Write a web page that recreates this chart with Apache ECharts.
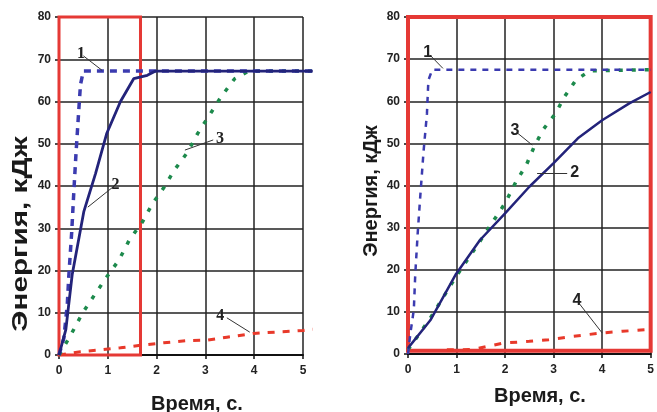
<!DOCTYPE html>
<html>
<head>
<meta charset="utf-8">
<script src="https://cdn.jsdelivr.net/npm/echarts@6/dist/echarts.min.js"></script>
<style>
  html, body { margin: 0; padding: 0; background: #fff; }
  #chart { width: 657px; height: 412px; }
</style>
</head>
<body>
<div id="chart"></div>
<script>
// left chart (время, с / энергия, кДж)
var tL1 = [0, 0.1, 0.17, 0.2, 0.26, 0.31, 0.35, 0.4, 0.44, 0.5, 5.2];
var eL1 = [0, 4, 12, 18.5, 29, 40, 48, 57, 64, 67.2, 67.2];
var tL2 = [0, 0.14, 0.27, 0.51, 0.75, 0.98, 1.26, 1.53, 1.81, 1.98, 5.2];
var eL2 = [0, 6, 19, 34, 43, 52.5, 60, 65.4, 66.2, 67.2, 67.2];
var tL3 = [0, 0.24, 0.48, 0.75, 0.98, 1.23, 1.44, 1.71, 1.92, 2.16, 2.36, 2.64, 2.84, 3.08, 3.32, 3.6, 3.87, 4.14, 5.2];
var eL3 = [0, 4.7, 9.9, 14.6, 18.5, 22.5, 27.2, 31.5, 35.9, 39.8, 43.7, 48.1, 52.4, 56.7, 61.1, 65.4, 67.1, 67.2, 67.2];
var tL4 = [0, 0.44, 0.85, 1.26, 1.74, 2.15, 2.63, 3.03, 3.44, 3.99, 4.54, 5.01, 5.2];
var eL4 = [0, 0.8, 1.2, 1.7, 2.4, 2.9, 3.4, 3.5, 4.2, 5.1, 5.5, 5.8, 6.1];

// right chart
var tR1 = [0, 0.05, 0.12, 0.15, 0.2, 0.25, 0.32, 0.39, 0.42, 0.5, 5];
var eR1 = [0, 5, 10.5, 19, 28.7, 37, 48, 57, 65, 67.5, 67.5];
var tR2 = [0, 0.46, 0.99, 1.48, 2.0, 2.5, 3.0, 3.5, 4.0, 4.56, 5.0];
var eR2 = [1.4, 8, 19, 27, 33.4, 39.7, 45.3, 51.2, 55.5, 59.5, 62.2];
var tR3 = [0, 0.46, 0.99, 1.48, 2.0, 2.23, 2.44, 2.6, 2.78, 3.04, 3.22, 3.46, 3.74, 5];
var eR3 = [1, 8.5, 18.4, 26.7, 35.8, 41, 44.9, 49.2, 53.2, 57.1, 61, 65, 67.2, 67.5];
var tR4 = [0.8, 1.0, 1.35, 1.96, 2.5, 2.9, 3.4, 4.0, 4.42, 4.97];
var eR4 = [1.0, 1.0, 1.1, 2.6, 3.0, 3.4, 4.2, 5.0, 5.4, 5.8];

var xTicks = [0, 1, 2, 3, 4, 5];
var yTicks = [0, 10, 20, 30, 40, 50, 60, 70, 80];
var xMaxL = 5.2; // кривые левого графика идут чуть дальше сетки

// номера кривых: [номер, начало выноски, конец выноски]
var notesL = [
  ['1', [0.5, 70.8], [0.88, 67.4]],
  ['2', [1.11, 39.8], [0.59, 35]],
  ['3', [3.16, 50.9], [2.58, 48.5]],
  ['4', [3.44, 8.8], [3.91, 5.4]]
];
var notesR = [
  ['1', [0.45, 71], [0.72, 67.8]],
  ['2', [3.28, 43], [2.66, 43]],
  ['3', [2.25, 52.5], [2.56, 49.6]],
  ['4', [3.52, 12.1], [4.0, 5]]
];

var boxL = [[0, 0], [1.67, 80]];
var boxR = [[0, 0.8], [5, 80]];

var colors = ['#3b3bb0', '#23237a', '#1d8a4c', '#e8392a'];

function pairs(t, e) {
  return t.map(function (x, i) { return [x, e[i]]; });
}

function note(n, fontFamily) {
  return {
    symbol: ['none', 'none'],
    silent: true,
    lineStyle: { color: '#333', width: 1, type: 'solid' },
    label: {
      show: true, position: 'start', distance: 3,
      formatter: n[0], color: '#222', fontSize: 16, fontWeight: 'bold',
      fontFamily: fontFamily
    },
    data: [[{ coord: n[1] }, { coord: n[2] }]]
  };
}

function box(b, w) {
  return {
    silent: true,
    itemStyle: { color: 'rgba(0,0,0,0)', borderColor: '#e53935', borderWidth: w },
    data: [[{ coord: b[0] }, { coord: b[1] }]]
  };
}

var labelStyle = { color: '#222', fontSize: 12, fontWeight: 'bold', fontFamily: 'Liberation Sans' };

function xAx(idx) {
  return {
    type: 'value', gridIndex: idx, min: 0, max: xTicks[xTicks.length - 1], interval: 1,
    axisLine: { show: true, onZero: false, lineStyle: { color: '#111', width: 2 } },
    axisTick: { show: true, length: 4, lineStyle: { color: '#111', width: 1.5 } },
    axisLabel: Object.assign({ margin: 10 }, labelStyle),
    splitLine: { show: true, lineStyle: { color: '#222', width: 1.5 } }
  };
}
function yAx(idx) {
  return {
    type: 'value', gridIndex: idx, min: 0, max: yTicks[yTicks.length - 1], interval: 10,
    axisLine: { show: true, lineStyle: { color: '#111', width: 2 } },
    axisTick: { show: true, length: 4, lineStyle: { color: '#111', width: 1.5 } },
    axisLabel: Object.assign({ margin: 8 }, labelStyle),
    splitLine: { show: true, lineStyle: { color: '#222', width: 1.5 } }
  };
}
function hidden(idx, max) {
  return { type: 'value', gridIndex: idx, min: 0, max: max, show: false, splitLine: { show: false } };
}

function ln(idx, name, t, e, color, width, type, n, fam, extra) {
  var s = {
    name: name, type: 'line', xAxisIndex: idx, yAxisIndex: idx,
    data: pairs(t, e), showSymbol: false, z: 3,
    lineStyle: { color: color, width: width, type: type },
    markLine: note(n, fam)
  };
  if (extra) s.markArea = extra;
  return s;
}

var chart = echarts.init(document.getElementById('chart'));
var option = {
  animation: false,
  grid: [
    { left: 59, top: 17, width: 244, height: 338 },
    { left: 408, top: 17, width: 244, height: 337 },
    { left: 59, top: 17, width: 244 * xMaxL / 5, height: 338 }
  ],
  xAxis: [xAx(0), xAx(1), hidden(2, xMaxL)],
  yAxis: [yAx(0), yAx(1), hidden(2, 80)],
  series: [
    ln(2, '4', tL4, eL4, colors[3], 3, [7, 8], notesL[3], 'Liberation Serif', box(boxL, 3)),
    ln(2, '3', tL3, eL3, colors[2], 3.5, [4, 9], notesL[2], 'Liberation Serif'),
    ln(2, '1', tL1, eL1, colors[0], 3.5, [7, 6], notesL[0], 'Liberation Serif'),
    ln(2, '2', tL2, eL2, colors[1], 2.8, 'solid', notesL[1], 'Liberation Serif'),
    ln(1, '4', tR4, eR4, colors[3], 3, [7, 9], notesR[3], 'Liberation Sans', box(boxR, 4)),
    ln(1, '3', tR3, eR3, colors[2], 3.5, [4, 9], notesR[2], 'Liberation Sans'),
    ln(1, '1', tR1, eR1, colors[0], 2.5, [6, 6], notesR[0], 'Liberation Sans'),
    ln(1, '2', tR2, eR2, colors[1], 2.5, 'solid', notesR[1], 'Liberation Sans')
  ],
  graphic: [
    { type: 'text', x: 21, y: 234, rotation: Math.PI / 2, scaleX: 1.35,
      style: { text: 'Энергия, кДж', font: 'bold 22px "Liberation Sans"', fill: '#1a1a1a', align: 'center', verticalAlign: 'middle' } },
    { type: 'text', x: 197, y: 404,
      style: { text: 'Время, с.', font: 'bold 20px "Liberation Sans"', fill: '#1a1a1a', align: 'center', verticalAlign: 'middle' } },
    { type: 'text', x: 371, y: 191, rotation: Math.PI / 2,
      style: { text: 'Энергия, кДж', font: 'bold 20px "Liberation Sans"', fill: '#1a1a1a', align: 'center', verticalAlign: 'middle' } },
    { type: 'text', x: 540, y: 396,
      style: { text: 'Время, с.', font: 'bold 20px "Liberation Sans"', fill: '#1a1a1a', align: 'center', verticalAlign: 'middle' } }
  ]
};
chart.setOption(option);
</script>
</body>
</html>
